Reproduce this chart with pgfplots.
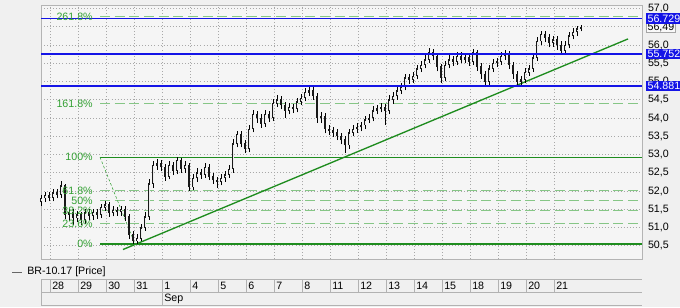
\documentclass[border=0pt]{standalone}
\usepackage{pgfplots}
\pgfplotsset{compat=1.18}
\usepackage{pgfplotstable}
\usepackage{fontspec}
\setmainfont{Liberation Sans}
\definecolor{bg}{HTML}{F0F0F0}
\definecolor{plotbg}{HTML}{F5F5F5}
\definecolor{gridc}{HTML}{A8A8A8}
\definecolor{framec}{HTML}{B4B4B4}
\definecolor{fibdark}{HTML}{1E8C1E}
\definecolor{fiblight}{HTML}{86C686}
\definecolor{fibtext}{HTML}{33A033}
\definecolor{lvl}{HTML}{1414E6}

\pgfplotstableread{
k o h l c
0 51.70 51.90 51.60 51.80
1 51.80 51.98 51.70 51.88
2 51.88 51.98 51.72 51.82
3 51.82 52.05 51.72 51.95
4 51.95 52.06 51.80 51.90
5 51.90 52.27 51.82 52.15
6 52.15 52.20 51.24 51.35
7 51.35 51.52 51.18 51.40
8 51.40 51.50 51.08 51.25
9 51.25 51.46 51.16 51.35
10 51.35 51.44 51.06 51.20
11 51.20 51.51 51.11 51.40
12 51.40 51.50 51.22 51.32
13 51.32 51.52 51.22 51.42
14 51.42 51.52 51.24 51.35
15 51.35 51.66 51.26 51.55
16 51.55 51.74 51.46 51.62
17 51.62 51.70 51.30 51.40
18 51.40 51.58 51.31 51.48
19 51.48 51.56 51.32 51.42
20 51.42 51.60 51.33 51.50
21 51.50 51.58 51.18 51.30
22 51.30 51.38 50.70 50.80
23 50.80 50.90 50.55 50.62
24 50.62 50.82 50.56 50.70
25 50.70 51.10 50.62 51.00
26 51.00 51.42 50.91 51.30
27 51.30 52.32 51.21 52.20
28 52.20 52.82 52.08 52.70
29 52.70 52.88 52.58 52.75
30 52.75 52.86 52.54 52.65
31 52.65 52.74 52.28 52.40
32 52.40 52.82 52.32 52.70
33 52.70 52.80 52.44 52.55
34 52.55 52.94 52.46 52.85
35 52.85 52.92 52.50 52.60
36 52.60 52.82 52.51 52.70
37 52.70 52.78 52.00 52.10
38 52.10 52.46 52.02 52.35
39 52.35 52.62 52.26 52.50
40 52.50 52.60 52.34 52.45
41 52.45 52.76 52.36 52.65
42 52.65 52.74 52.30 52.40
43 52.40 52.50 52.20 52.30
44 52.30 52.40 52.08 52.25
45 52.25 52.46 52.16 52.35
46 52.35 52.56 52.26 52.45
47 52.45 52.72 52.36 52.60
48 52.60 53.42 52.51 53.30
49 53.30 53.64 53.20 53.55
50 53.55 53.64 53.20 53.30
51 53.30 53.40 53.04 53.15
52 53.15 53.82 53.06 53.70
53 53.70 54.22 53.61 54.10
54 54.10 54.20 53.88 54.00
55 54.00 54.10 53.74 53.85
56 53.85 54.22 53.76 54.10
57 54.10 54.20 53.90 54.00
58 54.00 54.52 53.91 54.40
59 54.40 54.62 54.30 54.50
60 54.50 54.60 54.24 54.35
61 54.35 54.44 54.01 54.20
62 54.20 54.42 54.10 54.30
63 54.30 54.40 54.14 54.25
64 54.25 54.56 54.16 54.45
65 54.45 54.66 54.36 54.55
66 54.55 54.82 54.46 54.70
67 54.70 54.86 54.60 54.75
68 54.75 54.84 54.50 54.60
69 54.60 54.68 53.88 54.00
70 54.00 54.18 53.86 54.05
71 54.05 54.14 53.58 53.70
72 53.70 53.82 53.54 53.65
73 53.65 53.76 53.48 53.60
74 53.60 53.70 53.40 53.50
75 53.50 53.60 53.28 53.40
76 53.40 53.50 53.05 53.25
77 53.25 53.70 53.16 53.60
78 53.60 53.82 53.50 53.70
79 53.70 53.86 53.60 53.75
80 53.75 53.90 53.64 53.80
81 53.80 54.06 53.70 53.95
82 53.95 54.12 53.86 54.00
83 54.00 54.32 53.91 54.20
84 54.20 54.36 54.10 54.25
85 54.25 54.42 54.16 54.30
86 54.30 54.40 53.82 54.20
87 54.20 54.62 54.11 54.50
88 54.50 54.72 54.40 54.60
89 54.60 54.86 54.51 54.75
90 54.75 54.96 54.66 54.85
91 54.85 55.22 54.76 55.10
92 55.10 55.20 54.94 55.05
93 55.05 55.26 54.96 55.15
94 55.15 55.46 55.06 55.35
95 55.35 55.56 55.26 55.45
96 55.45 55.72 55.36 55.60
97 55.60 55.92 55.51 55.80
98 55.80 55.90 55.58 55.70
99 55.70 55.78 55.28 55.40
100 55.40 55.48 54.95 55.10
101 55.10 55.56 55.01 55.45
102 55.45 55.72 55.36 55.60
103 55.60 55.70 55.44 55.55
104 55.55 55.82 55.46 55.70
105 55.70 55.80 55.50 55.60
106 55.60 55.76 55.50 55.65
107 55.65 55.74 55.44 55.55
108 55.55 55.90 55.46 55.80
109 55.80 55.88 55.30 55.40
110 55.40 55.50 55.08 55.20
111 55.20 55.30 54.88 55.00
112 55.00 55.46 54.91 55.35
113 55.35 55.62 55.26 55.50
114 55.50 55.66 55.40 55.55
115 55.55 55.82 55.46 55.70
116 55.70 55.86 55.60 55.75
117 55.75 55.84 55.34 55.45
118 55.45 55.54 55.08 55.20
119 55.20 55.30 54.90 55.00
120 55.00 55.16 54.92 55.05
121 55.05 55.36 54.96 55.25
122 55.25 55.46 55.16 55.35
123 55.35 55.76 55.26 55.65
124 55.65 56.22 55.56 56.10
125 56.10 56.40 56.00 56.30
126 56.30 56.40 56.08 56.20
127 56.20 56.30 55.94 56.05
128 56.05 56.26 55.96 56.15
129 56.15 56.24 55.88 56.00
130 56.00 56.10 55.75 55.85
131 55.85 56.12 55.78 56.00
132 56.00 56.36 55.91 56.25
133 56.25 56.46 56.16 56.35
134 56.35 56.52 56.26 56.45
135 56.45 56.54 56.38 56.49
}\candles

\begin{document}
\begin{tikzpicture}[x=0.75pt,y=0.75pt,font=\fontsize{8}{9.6}\selectfont]
\useasboundingbox (0,0) rectangle (680,307);
\fill[bg] (0,0) rectangle (680,307);
\begin{axis}[
  at={(30.75pt,36pt)}, anchor=south west, scale only axis,
  width=450.75pt, height=190.5pt,
  xmin=0, xmax=150.25, ymin=50.14, ymax=57.10,
  clip=false,
  axis background/.style={fill=plotbg},
  axis line style={draw=framec, line width=0.6pt},
  major tick length=0pt,
  xtick={2.25,9.25,...,128.25}, xticklabels={},
  ytick={50.5,51,...,57.01},
  yticklabel pos=right,
  yticklabel style={anchor=west, xshift=1pt, font=\fontsize{8}{9.6}\selectfont,
    /pgf/number format/.cd, fixed, fixed zerofill, precision=1, use comma, assume math mode=true},
  grid=major,
  grid style={draw=gridc, line width=0.7pt, dash pattern=on 0.7pt off 1.6pt},
]
% Fibonacci levels
\addplot[fiblight, line width=1pt, dash pattern=on 7.5pt off 3.5pt] coordinates {(14.75,56.78) (150.25,56.78)};
\addplot[fiblight, line width=1pt, dash pattern=on 7.5pt off 3.5pt] coordinates {(14.75,54.40) (150.25,54.40)};
\addplot[fibdark, line width=0.9pt] coordinates {(14.75,52.93) (150.25,52.93)};
\addplot[fiblight, line width=1pt, dash pattern=on 7.5pt off 3.5pt] coordinates {(14.75,52.02) (150.25,52.02)};
\addplot[fiblight, line width=1pt, dash pattern=on 7.5pt off 3.5pt] coordinates {(14.75,51.74) (150.25,51.74)};
\addplot[fiblight, line width=1pt, dash pattern=on 7.5pt off 3.5pt] coordinates {(14.75,51.46) (150.25,51.46)};
\addplot[fiblight, line width=1pt, dash pattern=on 7.5pt off 3.5pt] coordinates {(14.75,51.11) (150.25,51.11)};
\addplot[fibdark, line width=0.9pt] coordinates {(14.75,50.55) (150.25,50.55)};
\addplot[fibtext, line width=0.4pt, dash pattern=on 2pt off 1.5pt] coordinates {(14.75,52.93) (23.5,50.55)};
% trend line
\addplot[fibdark, line width=1pt] coordinates {(20.5,50.40) (146.75,56.17)};
% candles: wicks, bodies, hollow up-bodies (quiver segments)
\addplot[black, line width=0.65pt, mark=none, forget plot,
  quiver={u=0, v={\thisrow{h}-\thisrow{l}}}]
  table[x=k, y=l] {\candles};
\addplot[black!90, line width=2.1pt, mark=none, forget plot,
  quiver={u=0, v={abs(\thisrow{o}-\thisrow{c})+0.015}}]
  table[x=k, y expr={min(\thisrow{o},\thisrow{c})}] {\candles};
\addplot[white!85!gray, line width=0.7pt, mark=none, forget plot,
  quiver={u=0, v={(\thisrow{c}>\thisrow{o}) ? max(\thisrow{c}-\thisrow{o}-0.05,0) : 0}}]
  table[x=k, y expr={min(\thisrow{o},\thisrow{c})+0.025}] {\candles};
% support / resistance levels
\addplot[lvl, line width=1.1pt] coordinates {(0,56.729) (150.25,56.729)};
\addplot[lvl, line width=1.1pt] coordinates {(0,55.752) (150.25,55.752)};
\addplot[lvl, line width=1.1pt] coordinates {(0,54.881) (150.25,54.881)};
% fib labels
\node[anchor=east, text=fibtext, inner sep=0pt] at (axis cs:13,56.78) {261.8\%};
\node[anchor=east, text=fibtext, inner sep=0pt] at (axis cs:13,54.40) {161.8\%};
\node[anchor=east, text=fibtext, inner sep=0pt] at (axis cs:13,52.93) {100\%};
\node[anchor=east, text=fibtext, inner sep=0pt] at (axis cs:13,52.02) {61.8\%};
\node[anchor=east, text=fibtext, inner sep=0pt] at (axis cs:13,51.74) {50\%};
\node[anchor=east, text=fibtext, inner sep=0pt] at (axis cs:13,51.46) {38.2\%};
\node[anchor=east, text=fibtext, inner sep=0pt] at (axis cs:13,51.11) {23.6\%};
\node[anchor=east, text=fibtext, inner sep=0pt] at (axis cs:13,50.55) {0\%};
\coordinate (b1) at (axis cs:150.25,56.729);
\coordinate (b2) at (axis cs:150.25,56.49);
\coordinate (b3) at (axis cs:150.25,55.752);
\coordinate (b4) at (axis cs:150.25,54.881);
\end{axis}
% price boxes on the right
\node[anchor=west, xshift=3pt, fill=white!60!bg, draw=gray!70, line width=0.4pt, inner xsep=1pt, inner ysep=0.8pt] at (b2) {56,49};
\node[anchor=west, xshift=3pt, fill=lvl, text=white, inner xsep=1pt, inner ysep=1pt] at (b1) {56.7290};
\node[anchor=west, xshift=3pt, fill=lvl, text=white, inner xsep=1pt, inner ysep=1pt] at (b3) {55.7520};
\node[anchor=west, xshift=3pt, fill=lvl, text=white, inner xsep=1pt, inner ysep=1pt] at (b4) {54.8814};
% legend
\draw[gray!80!black, line width=0.7pt] (12,35) -- (22,35);
\node[anchor=west, inner sep=0pt] at (27,35) {BR-10.17 [Price]};
% date strip
\draw[gray!60, line width=0.6pt] (41,28) -- (642,28) (41,15) -- (642,15) (41,2) -- (642,2);
\draw[gray!60, line width=0.6pt] (41,28) -- (41,2) (162,15) -- (162,2);
\foreach \d/\lab in {0/28,1/29,2/30,3/31,4/1,5/4,6/5,7/6,8/7,9/8,10/11,11/12,12/13,13/14,14/15,15/18,16/19,17/20,18/21}{
  \draw[gray!60, line width=0.6pt] ({50+28*\d},28) -- ({50+28*\d},15);
  \node[anchor=west, inner sep=0pt] at ({52+28*\d},21.5) {\lab};
}
\node[anchor=west, inner sep=0pt] at (164,8.5) {Sep};
\end{tikzpicture}
\end{document}
